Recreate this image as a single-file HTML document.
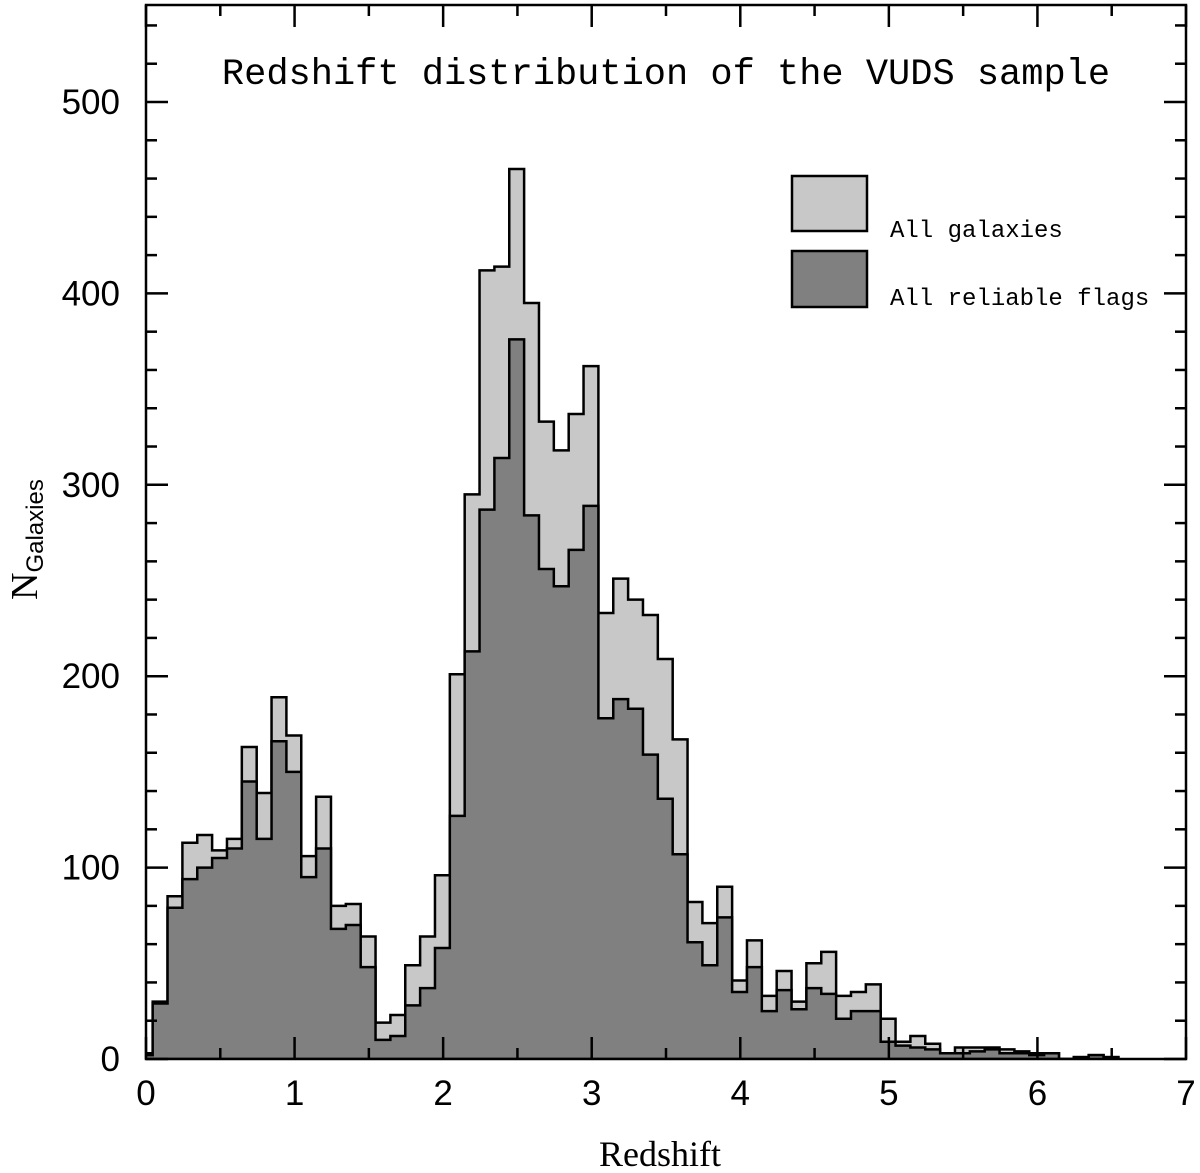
<!DOCTYPE html>
<html><head><meta charset="utf-8"><style>
html,body{margin:0;padding:0;background:#fff;}
svg{display:block;}
text{fill:#000;}
</style></head><body>
<svg id="chart" width="1200" height="1173" viewBox="0 0 1200 1173" xmlns="http://www.w3.org/2000/svg">
<defs><clipPath id="plotclip"><rect x="146" y="5" width="1040" height="1054"/></clipPath></defs>
<g id="bars-all" clip-path="url(#plotclip)"></g>
<g id="bars-rel" clip-path="url(#plotclip)"></g>
<g id="ticks"></g>
<rect x="146" y="5" width="1040" height="1054" fill="none" stroke="#000" stroke-width="2.5"/>
<g id="labels" font-family="Liberation Sans, sans-serif" font-size="35"></g>
<text x="666" y="84" text-anchor="middle" font-family="Liberation Mono, monospace" font-size="37">Redshift distribution of the VUDS sample</text>
<text x="660" y="1166" text-anchor="middle" font-family="Liberation Serif, serif" font-size="36">Redshift</text>
<text transform="translate(37,600) rotate(-90)" font-family="Liberation Serif, serif" font-size="38">N<tspan font-family="Liberation Sans, sans-serif" font-size="24" dy="6">Galaxies</tspan></text>
<g>
<rect x="792" y="176" width="75" height="55" fill="#c8c8c8" stroke="#000" stroke-width="2.5"/>
<text x="890" y="237" font-family="Liberation Mono, monospace" font-size="24">All galaxies</text>
<rect x="792" y="251" width="75" height="56" fill="#808080" stroke="#000" stroke-width="2.5"/>
<text x="890" y="305" font-family="Liberation Mono, monospace" font-size="24">All reliable flags</text>
</g>
</svg>
<script>
const binStart = -0.055;
const binWidth = 0.1;
const allCounts = [3,30,85,113,117,109,115,163,139,189,169,106,137,80,81,64,19,23,49,64,96,201,295,412,414,465,395,333,318,337,362,233,251,240,232,209,167,82,71,90,41,62,33,46,30,50,56,33,35,39,21,9,12,8,3,6,6,6,5,4,3,3,0,1,2,1];
const relCounts = [2,29,79,94,100,105,110,145,115,166,150,95,110,68,70,48,10,12,28,37,58,127,213,287,314,376,284,256,247,266,289,178,188,183,159,136,107,61,49,74,35,48,25,36,26,37,34,21,25,25,9,7,6,5,3,3,4,5,3,3,2,3,0,1,2,1];
const xTickLabels = ["0","1","2","3","4","5","6","7"];
const yTickLabels = ["0","100","200","300","400","500"];

const X = z => 146 + z * (1040 / 7);
const Y = v => 1059 - v * (957 / 500);
const NS = "http://www.w3.org/2000/svg";

function stepPath(counts){
  let d = "M" + X(binStart) + "," + Y(0);
  counts.forEach((c,i)=>{
    const x0 = X(binStart + i*binWidth), x1 = X(binStart + (i+1)*binWidth);
    d += " L" + x0 + "," + Y(c) + " L" + x1 + "," + Y(c);
  });
  d += " L" + X(binStart + counts.length*binWidth) + "," + Y(0) + " Z";
  return d;
}
function addPath(gid, counts, fill, name){
  const p = document.createElementNS(NS,"path");
  p.setAttribute("d", stepPath(counts));
  p.setAttribute("fill", fill);
  p.setAttribute("stroke", "#000");
  p.setAttribute("stroke-width", "2.5");
  
  
  document.getElementById(gid).appendChild(p);
}
addPath("bars-all", allCounts, "#c8c8c8", "histogram-all-galaxies");
addPath("bars-rel", relCounts, "#808080", "histogram-reliable-flags");

const tg = document.getElementById("ticks");
function line(x1,y1,x2,y2){
  const l = document.createElementNS(NS,"line");
  l.setAttribute("x1",x1);l.setAttribute("y1",y1);l.setAttribute("x2",x2);l.setAttribute("y2",y2);
  l.setAttribute("stroke","#000");l.setAttribute("stroke-width","2.5");
  
  
  tg.appendChild(l);
}
for(let v=0; v<=540; v+=20){
  const len = (v%100===0)?22:11;
  line(146,Y(v),146+len,Y(v));
  line(1186,Y(v),1186-len,Y(v));
}
for(let z=0; z<=7; z+=0.5){
  const len = (Math.abs(z-Math.round(z))<1e-6)?22:11;
  line(X(z),1059,X(z),1059-len);
  line(X(z),5,X(z),5+len);
}
const lg = document.getElementById("labels");
xTickLabels.forEach((t,i)=>{
  const e = document.createElementNS(NS,"text");
  e.setAttribute("x", X(+t)); e.setAttribute("y", 1105); e.setAttribute("text-anchor","middle");
  e.textContent = t;
  
  
  lg.appendChild(e);
});
yTickLabels.forEach(t=>{
  const e = document.createElementNS(NS,"text");
  e.setAttribute("x", 120); e.setAttribute("y", Y(+t)+12); e.setAttribute("text-anchor","end");
  e.textContent = t;
  
  
  lg.appendChild(e);
});
</script>
</body></html>
